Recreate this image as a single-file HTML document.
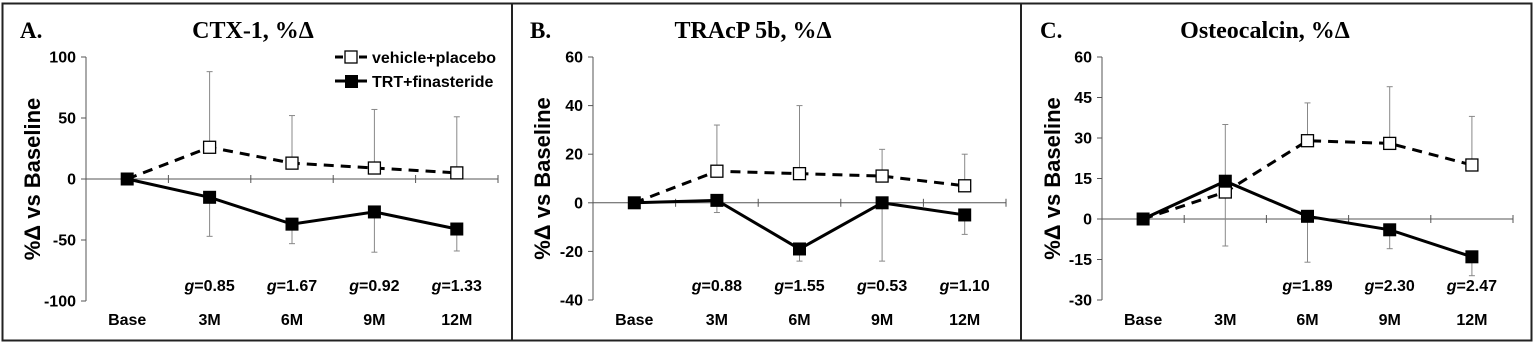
<!DOCTYPE html>
<html><head><meta charset="utf-8"><style>
html,body{margin:0;padding:0;background:#fff;}
svg{display:block;}
</style></head><body>
<svg id="s" width="1535" height="350" xmlns="http://www.w3.org/2000/svg" font-family="Liberation Sans, sans-serif">
<rect x="0" y="0" width="1535" height="350" fill="#fff"/>
</svg>
<script>
const s=document.getElementById('s');
let h='';
h+='<rect x="2.5" y="3.5" width="1529" height="337" fill="none" stroke="#222" stroke-width="2"/>';
h+='<line x1="512" y1="3" x2="512" y2="341" stroke="#222" stroke-width="2"/>';
h+='<line x1="1021" y1="3" x2="1021" y2="341" stroke="#222" stroke-width="2"/>';
const panels=[
 {ox:0,ax:86,right:498,ytop:57,ybot:301,min:-100,max:100,step:50,letter:'A.',title:'CTX-1, %\u0394',tx:253,
  v:[0,26,13,9,5],vu:[null,88,52,57,51],t:[0,-15,-37,-27,-41],td:[null,-47,-53,-60,-59],
  g:[null,'0.85','1.67','0.92','1.33'],legend:true},
 {ox:510,ax:593,right:1006,ytop:57,ybot:300,min:-40,max:60,step:20,letter:'B.',title:'TRAcP 5b, %\u0394',tx:753,
  v:[0,13,12,11,7],vu:[null,32,40,22,20],t:[0,1,-19,0,-5],td:[null,-4,-24,-24,-13],
  g:[null,'0.88','1.55','0.53','1.10']},
 {ox:1020,ax:1102,right:1513,ytop:57,ybot:300,min:-30,max:60,step:15,letter:'C.',title:'Osteocalcin, %\u0394',tx:1265,
  v:[0,10,29,28,20],vu:[null,35,43,49,38],t:[0,14,1,-4,-14],td:[null,-10,-16,-11,-21],
  g:[null,null,'1.89','2.30','2.47']}
];
const cats=['Base','3M','6M','9M','12M'];
for(const p of panels){
 const Y=v=>p.ybot-(v-p.min)*(p.ybot-p.ytop)/(p.max-p.min);
 const w=(p.right-p.ax)/5, X=i=>p.ax+w*(i+0.5);
 const y0=Y(0);
 h+=`<text x="${p.ox+20}" y="38" font-family="Liberation Serif, serif" font-weight="bold" font-size="23">${p.letter}</text>`;
 h+=`<text x="${p.tx}" y="38" text-anchor="middle" font-family="Liberation Serif, serif" font-weight="bold" font-size="24">${p.title}</text>`;
 h+=`<line x1="${p.ax}" y1="${p.ytop}" x2="${p.ax}" y2="${p.ybot}" stroke="#555" stroke-width="1"/>`;
 for(let v=p.min;v<=p.max;v+=p.step){const y=Y(v);
  h+=`<line x1="${p.ax-5}" y1="${y}" x2="${p.ax}" y2="${y}" stroke="#555"/>`;
  h+=`<text x="${p.ax-10}" y="${y+5.5}" text-anchor="end" font-weight="bold" font-size="16">${v}</text>`;}
 h+=`<line x1="${p.ax}" y1="${y0}" x2="${p.right}" y2="${y0}" stroke="#555"/>`;
 for(let i=1;i<=5;i++){const x=p.ax+w*i;h+=`<line x1="${x}" y1="${y0-4}" x2="${x}" y2="${y0+4}" stroke="#555"/>`;}
 cats.forEach((c,i)=>{h+=`<text x="${X(i)}" y="325" text-anchor="middle" font-weight="bold" font-size="16">${c}</text>`;
  if(p.g[i])h+=`<text x="${X(i)}" y="291" text-anchor="middle" font-weight="bold" font-size="16"><tspan font-style="italic">g</tspan>=${p.g[i]}</text>`;});
 h+=`<text transform="translate(${p.ox+40},${(p.ytop+p.ybot)/2}) rotate(-90)" text-anchor="middle" font-weight="bold" font-size="22">%\u0394 vs Baseline</text>`;
 for(let i=1;i<5;i++){
  h+=`<line x1="${X(i)}" y1="${Y(p.v[i])}" x2="${X(i)}" y2="${Y(p.vu[i])}" stroke="#888"/><line x1="${X(i)-3}" y1="${Y(p.vu[i])}" x2="${X(i)+3}" y2="${Y(p.vu[i])}" stroke="#888"/>`;
  h+=`<line x1="${X(i)}" y1="${Y(p.t[i])}" x2="${X(i)}" y2="${Y(p.td[i])}" stroke="#888"/><line x1="${X(i)-3}" y1="${Y(p.td[i])}" x2="${X(i)+3}" y2="${Y(p.td[i])}" stroke="#888"/>`;
 }
 h+=`<polyline points="${p.v.map((v,i)=>X(i)+','+Y(v)).join(' ')}" fill="none" stroke="#000" stroke-width="3" stroke-dasharray="10,7"/>`;
 h+=`<polyline points="${p.t.map((v,i)=>X(i)+','+Y(v)).join(' ')}" fill="none" stroke="#000" stroke-width="3"/>`;
 p.v.forEach((v,i)=>{if(i>0)h+=`<rect x="${X(i)-6}" y="${Y(v)-6}" width="12" height="12" fill="#fff" stroke="#000" stroke-width="1.3"/>`;});
 p.t.forEach((v,i)=>{h+=`<rect x="${X(i)-6.5}" y="${Y(v)-6.5}" width="13" height="13" fill="#000"/>`;});
 if(p.legend){
  h+=`<line x1="335" y1="57" x2="367" y2="57" stroke="#000" stroke-width="3" stroke-dasharray="8,4"/><rect x="345" y="51" width="12" height="12" fill="#fff" stroke="#000" stroke-width="1.3"/>`;
  h+=`<text x="372" y="63" font-weight="bold" font-size="16">vehicle+placebo</text>`;
  h+=`<line x1="335" y1="81" x2="367" y2="81" stroke="#000" stroke-width="3"/><rect x="345" y="75" width="13" height="13" fill="#000"/>`;
  h+=`<text x="372" y="87" font-weight="bold" font-size="16">TRT+finasteride</text>`;
 }
}
s.innerHTML+=h;
</script>
</body></html>
